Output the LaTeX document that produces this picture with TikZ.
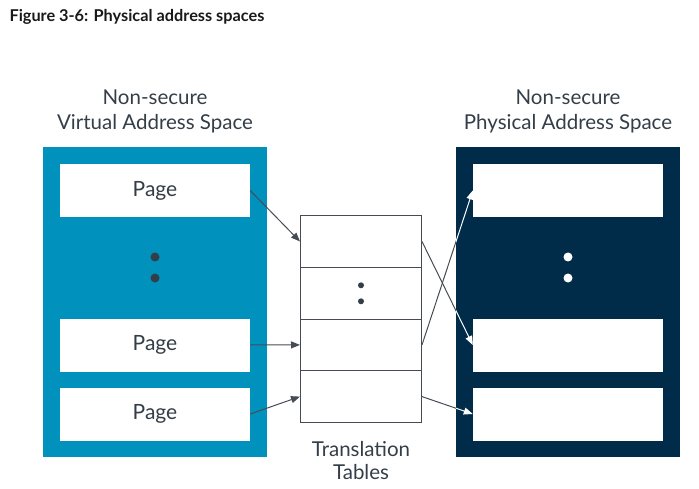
\documentclass[tikz,border=0pt]{standalone}
\usepackage{fontspec}
\setmainfont{Lato}
\usetikzlibrary{arrows.meta}
\definecolor{armblue}{RGB}{0,145,189}
\definecolor{armnavy}{RGB}{0,43,73}
\definecolor{ink}{RGB}{51,62,72}
\definecolor{tline}{RGB}{70,76,84}
\begin{document}
\begin{tikzpicture}[x=1pt,y=-1pt,
  space/.style={minimum width=224pt,minimum height=310pt,inner sep=0pt,anchor=north west},
  page/.style={fill=white,minimum width=190pt,minimum height=53pt,inner sep=0pt,text=ink,font=\fontsize{21}{24}\selectfont},
  trow/.style={draw=tline,line width=1pt,fill=white,minimum width=121pt,minimum height=51.7pt,inner sep=0pt},
  label/.style={align=center,text=ink},
  conn/.style={draw=tline,line width=1pt,-{Triangle[length=9pt,width=7pt]}},
  connw/.style={draw=white,line width=1pt,-{Triangle[length=9pt,width=7pt]}},
  connp/.style={draw=tline,line width=1pt}]
\useasboundingbox (0,0) rectangle (699,489);
\node[anchor=west,text=black!90,font=\bfseries\fontsize{16.3}{18}\selectfont] (title) at (6,17) {Figure 3-6: Physical address spaces};
% spaces
\node[space,fill=armblue] (vas) at (43,147) {};
\node[space,fill=armnavy] (pas) at (456,147) {};
\node[label,font=\fontsize{20.5}{25}\selectfont] (vlab) at (155,111.5) {Non-secure\\Virtual Address Space};
\node[label,font=\fontsize{20.5}{25}\selectfont] (plab) at (568,111.5) {Non-secure\\Physical Address Space};
% pages
\node[page] (p1) at (155,190.5) {\raisebox{-1.5pt}{Page}};
\node[page] (p2) at (155,345) {\raisebox{-2pt}{Page}};
\node[page] (p3) at (155,414) {\raisebox{-2pt}{Page}};
\node[page] (q1) at (568,190.5) {};
\node[page] (q2) at (568,345) {};
\node[page] (q3) at (568,414) {};
\fill[ink] (155,257) circle (4.5pt) (155,278) circle (4.5pt);
\fill[white] (568,257) circle (4.5pt) (568,278) circle (4.5pt);
% table
\node[trow] (t1) at (361,241.5) {};
\node[trow] (t2) at (361,293.2) {};
\node[trow] (t3) at (361,344.9) {};
\node[trow] (t4) at (361,396.6) {};
\fill[ink] (361,285.3) circle (3pt) (361,301.3) circle (3pt);
\node[label,font=\fontsize{20.5}{23}\selectfont] (tlab) at (361,460.5) {Translation\\Tables};
% left arrows
\draw[conn] (p1.east) -- (t1.west);
\draw[conn] (p2.east) -- (t3.west);
\draw[conn] (p3.east) -- (t4.west);
% right arrows
\begin{scope}
\clip (0,0) rectangle (456,489);
\draw[connp] (t1.east) -- (q2.west);
\draw[connp] (t3.east) -- (q1.west);
\draw[connp] (t4.east) -- (q3.west);
\end{scope}
\begin{scope}
\clip (456,0) rectangle (699,489);
\draw[connw] (t1.east) -- (q2.west);
\draw[connw] (t3.east) -- (q1.west);
\draw[connw] (t4.east) -- (q3.west);
\end{scope}
\end{tikzpicture}
\end{document}
